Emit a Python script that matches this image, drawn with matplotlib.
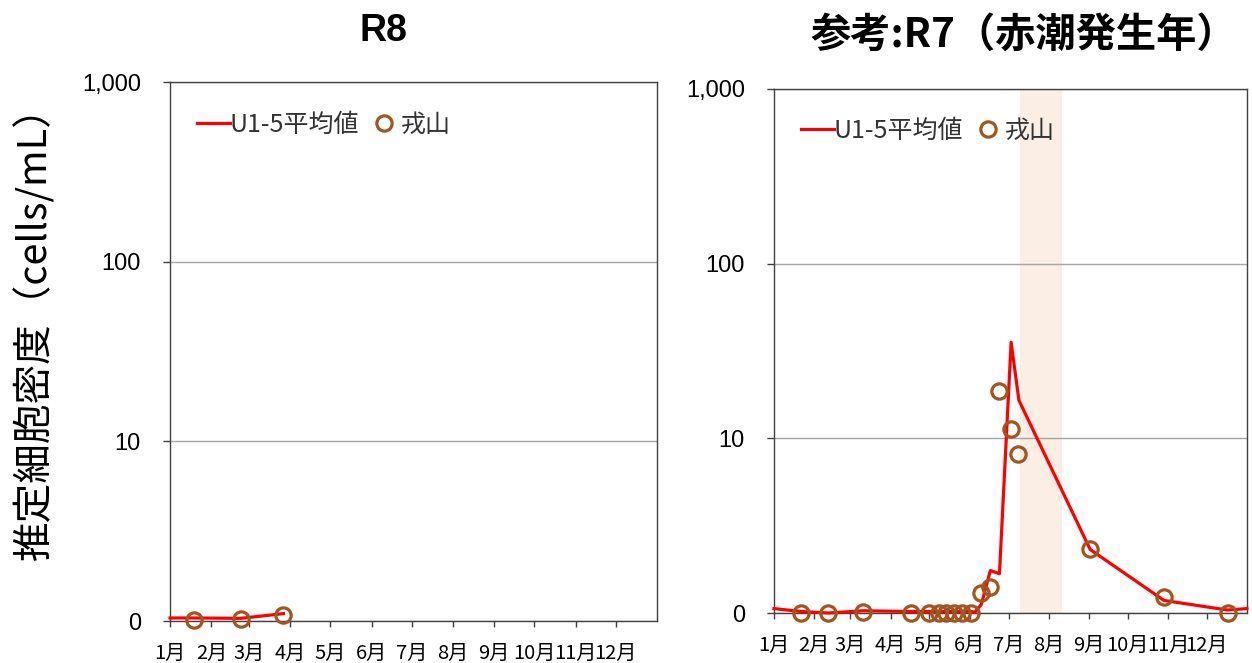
import matplotlib
matplotlib.use('Agg')
import matplotlib.pyplot as plt
from matplotlib.ticker import NullLocator
import pandas as pd

# R8 (2026) - U1-5 average and 戎山 (cells/mL, log axis, bottom = "0")
r8_line_dates = ['2026-01-01', '2026-01-19', '2026-02-23', '2026-03-27']
r8_line_vals = [1.04, 1.04, 1.035, 1.10]
r8_pt_dates = ['2026-01-19', '2026-02-23', '2026-03-27']
r8_pt_vals = [1.01, 1.02, 1.08]

# R7 (2025) reference, red tide year
r7_line_dates = ['2025-01-01', '2025-01-22', '2025-02-12', '2025-03-11', '2025-04-17',
                 '2025-05-01', '2025-05-08', '2025-05-14', '2025-05-19', '2025-05-26',
                 '2025-06-02', '2025-06-05', '2025-06-10', '2025-06-17', '2025-06-24',
                 '2025-07-03', '2025-07-09', '2025-09-02', '2025-10-29', '2025-12-17',
                 '2026-01-01']
r7_line_vals = [1.06, 1.02, 1.00, 1.03, 1.02,
                1.02, 1.02, 1.02, 1.02, 1.02,
                1.02, 1.01, 1.12, 1.75, 1.68,
                35.5, 16.5, 2.31, 1.18, 1.04,
                1.06]
r7_pt_dates = ['2025-01-22', '2025-02-12', '2025-03-11', '2025-04-17', '2025-05-01',
               '2025-05-08', '2025-05-14', '2025-05-20', '2025-05-26', '2025-06-02',
               '2025-06-10', '2025-06-17', '2025-06-24', '2025-07-03', '2025-07-08',
               '2025-09-02', '2025-10-29', '2025-12-17']
r7_pt_vals = [1.0, 1.0, 1.01, 1.0, 1.0,
              1.0, 1.0, 1.0, 1.0, 1.0,
              1.30, 1.41, 18.7, 11.3, 8.1,
              2.32, 1.23, 1.0]
r7_bloom = ('2025-07-10', '2025-08-11')

y_ticks = [1, 10, 100, 1000]
y_ticklabels = ['0', '10', '100', '1,000']

LINE_C = '#ff0000'
PT_C = '#a0561e'
JP = ['Noto Sans CJK JP', 'DejaVu Sans']

fig = plt.figure(figsize=(12.52, 6.63), dpi=100)
ax1 = fig.add_axes([0.1358, 0.0633, 0.389, 0.813])
ax2 = fig.add_axes([0.6182, 0.0754, 0.3778, 0.7904])


def draw(ax, year, ldates, lvals, pdates, pvals):
    ax.plot(pd.to_datetime(ldates), lvals, color=LINE_C, lw=2.3, label='U1-5平均値',
            zorder=3, clip_on=False)
    ax.plot(pd.to_datetime(pdates), pvals, ls='none', marker='o', ms=11, mfc='none',
            mec=PT_C, mew=2.3, label='戎山', zorder=4, clip_on=False)
    ax.set_yscale('log')
    ax.set_ylim(1, 1000)
    ax.set_yticks(y_ticks)
    ax.set_yticklabels(y_ticklabels, fontsize=17, family='Liberation Sans')
    ax.yaxis.set_minor_locator(NullLocator())
    start = pd.Timestamp(f'{year}-01-01')
    ax.set_xlim(start, pd.Timestamp(f'{year + 1}-01-01'))
    months = pd.date_range(start, periods=12, freq='MS')
    ax.set_xticks(months)
    ax.set_xticklabels([f'{m.month}月' for m in months], fontsize=14.5, family=JP)
    ax.xaxis.set_minor_locator(NullLocator())
    ax.tick_params(axis='x', length=4.5, width=1, pad=11, color='#404040')
    ax.tick_params(axis='y', length=5, width=1, pad=16, color='#404040')
    ax.grid(axis='y', color='#a6a6a6', lw=1)
    ax.set_axisbelow(True)
    for s in ax.spines.values():
        s.set_color('#404040')
        s.set_linewidth(1)
    leg = ax.legend(loc='center left', bbox_to_anchor=(0.01, 0.92), ncol=2, frameon=False,
                    handlelength=1.3, handletextpad=0.0, columnspacing=0.35,
                    prop={'family': JP, 'size': 18})
    for t in leg.get_texts():
        t.set_color('#333333')


draw(ax1, 2026, r8_line_dates, r8_line_vals, r8_pt_dates, r8_pt_vals)
draw(ax2, 2025, r7_line_dates, r7_line_vals, r7_pt_dates, r7_pt_vals)
ax2.axvspan(pd.Timestamp(r7_bloom[0]), pd.Timestamp(r7_bloom[1]), color='#fbeee4', lw=0, zorder=0)

fig.text(0.306, 0.953, 'R8', ha='center', va='center', fontsize=27, fontweight='bold',
         family='Liberation Sans')
fig.text(0.818, 0.945, '参考:R7（赤潮発生年）', ha='center', va='center', fontsize=29,
         fontweight='bold', family=JP)
fig.text(0.028, 0.512, '推定細胞密度（cells/mL）', ha='center', va='center', rotation=90,
         fontsize=28.5, family=JP)

fig.savefig('out.png', dpi=100)
